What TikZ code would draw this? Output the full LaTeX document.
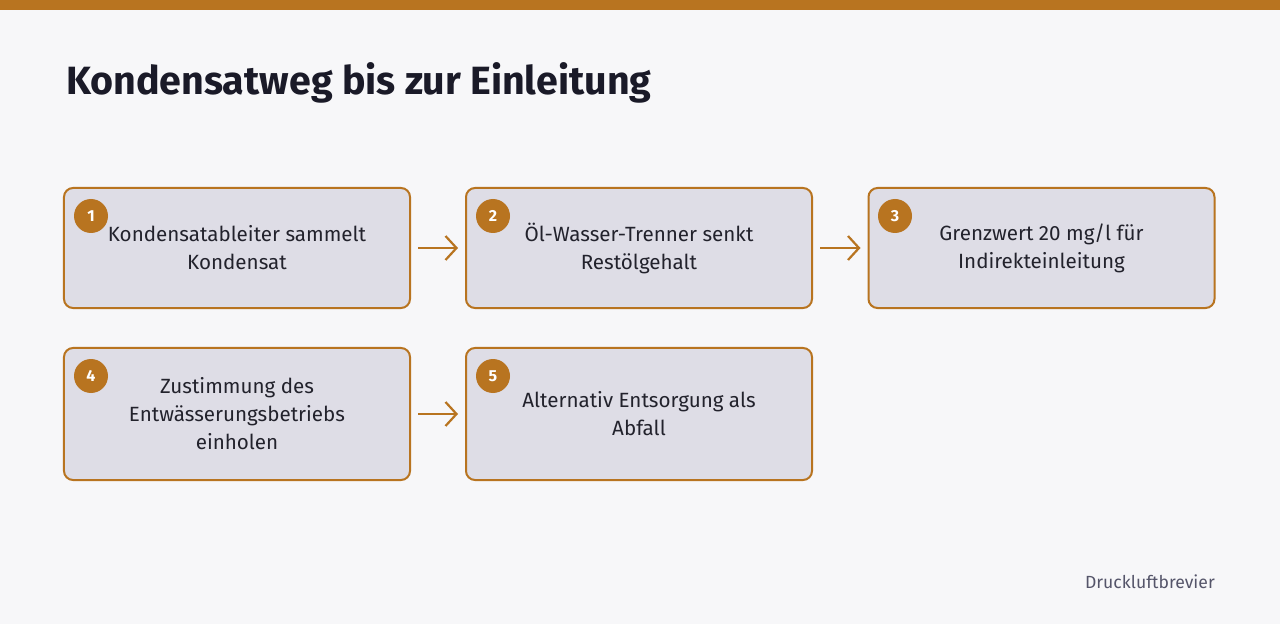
\documentclass[tikz,border=0pt]{standalone}
\usepackage{fontspec}
\setmainfont{Fira Sans}
\usetikzlibrary{arrows.meta}
\definecolor{bg}{HTML}{F7F7F9}
\definecolor{accent}{HTML}{B87420}
\definecolor{boxfill}{HTML}{DEDDE6}
\definecolor{ink}{HTML}{22222C}
\definecolor{titleink}{HTML}{1A1A28}
\definecolor{foot}{HTML}{55556A}
\tikzset{
  stepbox/.style={draw=accent, line width=2bp, fill=boxfill, rounded corners=9bp,
    minimum width=346bp, align=center, text=ink, font=\fontsize{20.6bp}{28bp}\selectfont, inner sep=0pt},
  badge/.style={circle, fill=accent, minimum size=34bp, inner sep=0pt, text=white,
    font=\fontsize{16bp}{16bp}\selectfont\bfseries},
  flow/.style={draw=accent, line width=2.2bp, -{Straight Barb[length=11bp,width=24bp,line width=2.2bp]}},
}
\begin{document}
\begin{tikzpicture}[x=1bp,y=-1bp]
\useasboundingbox (0,0) rectangle (1280,624);
\fill[bg] (0,0) rectangle (1280,624);
\fill[accent] (0,0) rectangle (1280,10);
\node[anchor=base west, inner sep=0pt, text=titleink, font=\fontsize{39.4bp}{48bp}\selectfont\bfseries] (title) at (66,95) {Kondensatweg bis zur Einleitung};
\node[stepbox, minimum height=120bp] (b1) at (237,248) {Kondensatableiter sammelt\\Kondensat};
\node[stepbox, minimum height=120bp] (b2) at (639,248) {Öl-Wasser-Trenner senkt\\Restölgehalt};
\node[stepbox, minimum height=120bp] (b3) at (1041.5,248) {Grenzwert 20 mg/l für\\Indirekteinleitung};
\node[stepbox, minimum height=132bp] (b4) at (237,414) {Zustimmung des\\Entwässerungsbetriebs\\einholen};
\node[stepbox, minimum height=132bp] (b5) at (639,414) {Alternativ Entsorgung als\\Abfall};
\node[badge] (n1) at (91,216) {1};
\node[badge] (n2) at (493,216) {2};
\node[badge] (n3) at (895,216) {3};
\node[badge] (n4) at (91,376) {4};
\node[badge] (n5) at (493,376) {5};
\draw[flow] ([xshift=7bp]b1.east) -- ([xshift=-7bp]b2.west);
\draw[flow] ([xshift=7bp]b2.east) -- ([xshift=-7bp]b3.west);
\draw[flow] ([xshift=7bp]b4.east) -- ([xshift=-7bp]b5.west);
\node[anchor=base east, inner sep=0pt, text=foot, font=\fontsize{17.6bp}{20bp}\selectfont] (footer) at (1215,588) {Druckluftbrevier};
\end{tikzpicture}
\end{document}
